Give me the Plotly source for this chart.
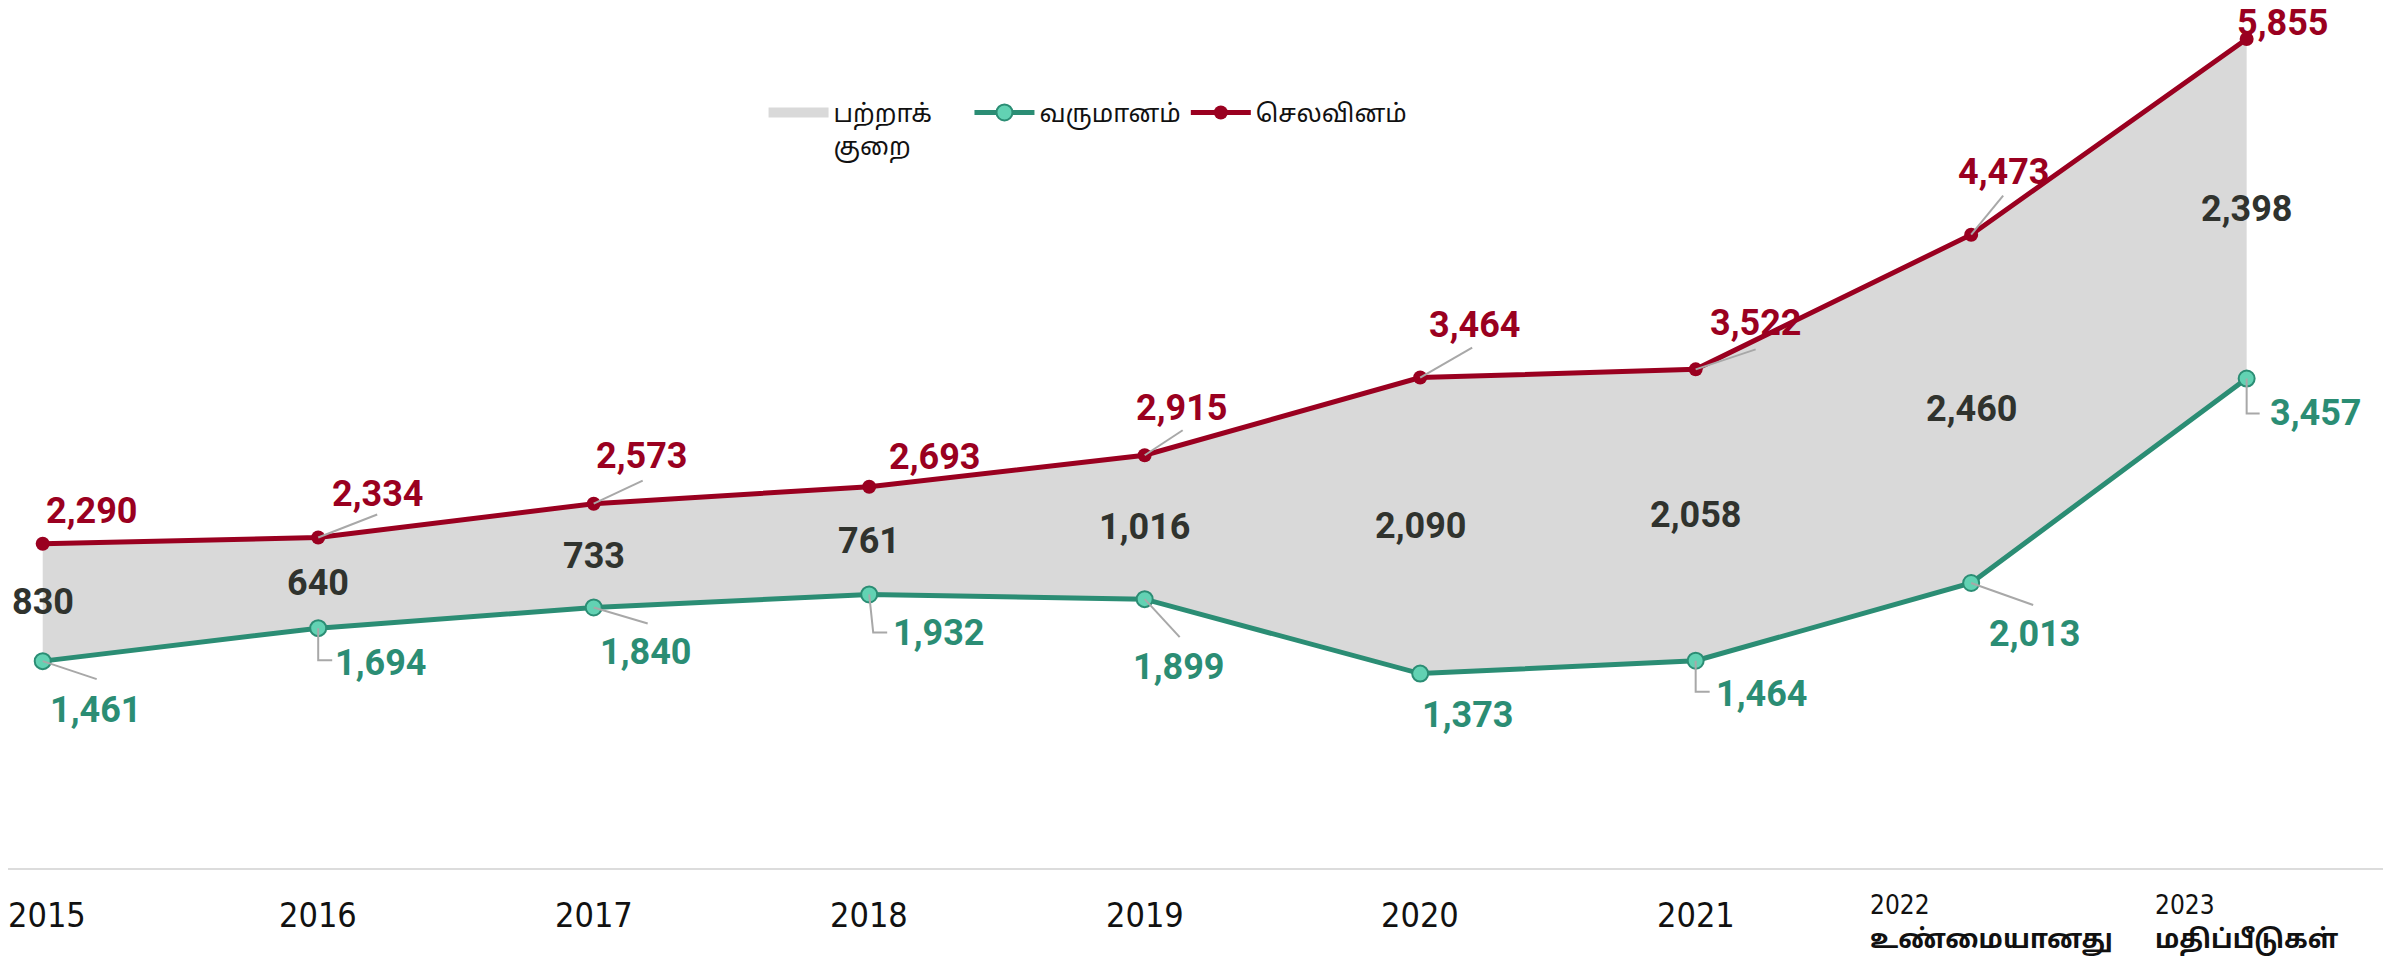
import plotly.graph_objects as go

# data
years = [2015, 2016, 2017, 2018, 2019, 2020, 2021, 2022, 2023]
year_labels = ["2015", "2016", "2017", "2018", "2019", "2020", "2021",
               "2022<br><b>உண்மையானது</b>", "2023<br><b>மதிப்பீடுகள்</b>"]
income = [1461, 1694, 1840, 1932, 1899, 1373, 1464, 2013, 3457]
expenditure = [2290, 2334, 2573, 2693, 2915, 3464, 3522, 4473, 5855]
deficit = [830, 640, 733, 761, 1016, 2090, 2058, 2460, 2398]
legend_names = ["பற்றாக்<br>குறை", "வருமானம்", "செலவினம்"]

RED = "#9a0020"
GREEN = "#2b8d74"
GREEN_FILL = "#62d2b3"
GREY_FILL = "#d9d9d9"
DARK = "#30332e"
LEADER = "#a8a8a8"
NUM_FONT = "Roboto"
TAMIL_FONT = "Noto Sans Tamil, Latha, Noto Sans, sans-serif"
AXIS_FONT = "Liberation Sans Narrow, DejaVu Sans Condensed, Roboto, " + TAMIL_FONT
NBSP = "\u00a0"

# label offsets in px (x right, y up) and leader-line shapes relative to point
red_shift = [(49, 33), (59, 44), (48, 48), (65, 30), (37, 47),
             (54, 53), (60, 46), (32, 63), (36, 16)]
green_shift = [(53, -49), (62, -35), (52, -45), (69, -39), (34, -68),
               (47, -41), (66, -33), (63, -51), (69, -34)]
red_leader = [None, "M0,0 L59,23", "M0,0 L49,23", None, "M0,0 L38,25",
              "M0,0 L52,30", "M0,0 L60,20", "M0,0 L32,39", None]
green_leader = ["M0,0 L54,-18", "M0,0 L0,-32 L14,-32", "M0,0 L54,-16",
                "M0,0 L4,-38 L18,-38", "M0,0 L35,-38", None,
                "M0,0 L0,-31 L14,-31", "M0,0 L62,-22", "M0,0 L0,-35 L13,-35"]
axis_label_xshift = [4, 0, 0, 0, 0, 0, 0, 20, 0]
legend_pad = [5, 0, 0]

fig = go.Figure()

# base for the deficit band
fig.add_trace(go.Scatter(x=years, y=income, mode="lines", line=dict(width=0),
                         showlegend=False, hoverinfo="skip"))
fig.add_trace(go.Scatter(x=years, y=expenditure, mode="lines", line=dict(width=0),
                         fill="tonexty", fillcolor=GREY_FILL,
                         showlegend=False, hoverinfo="skip"))
# legend swatch for the band
fig.add_trace(go.Scatter(x=[None], y=[None], mode="lines",
                         name=legend_names[0].replace("<br>", NBSP * legend_pad[0] + "<br>", 1),
                         line=dict(color=GREY_FILL, width=22)))
fig.add_trace(go.Scatter(x=years, y=income, mode="lines+markers",
                         name=legend_names[1] + NBSP * legend_pad[1],
                         line=dict(color=GREEN, width=5),
                         marker=dict(size=16, color=GREEN_FILL,
                                     line=dict(color=GREEN, width=2))))
fig.add_trace(go.Scatter(x=years, y=expenditure, mode="lines+markers",
                         name=legend_names[2],
                         line=dict(color=RED, width=5),
                         marker=dict(size=14, color=RED)))

annotations = []
shapes = []
for i, yr in enumerate(years):
    annotations.append(dict(x=yr, y=expenditure[i], text=f"{expenditure[i]:,}",
                            showarrow=False, xshift=red_shift[i][0], yshift=red_shift[i][1],
                            font=dict(family=NUM_FONT, size=36, color=RED, weight="bold")))
    annotations.append(dict(x=yr, y=income[i], text=f"{income[i]:,}",
                            showarrow=False, xshift=green_shift[i][0], yshift=green_shift[i][1],
                            font=dict(family=NUM_FONT, size=36, color=GREEN, weight="bold")))
    annotations.append(dict(x=yr, y=(income[i] + expenditure[i]) / 2, text=f"{deficit[i]:,}",
                            showarrow=False,
                            font=dict(family=NUM_FONT, size=36, color=DARK, weight="bold")))
    two_line = "<br>" in year_labels[i]
    annotations.append(dict(x=yr, y=0, yref="y", text=year_labels[i], showarrow=False,
                            yanchor="top", yshift=-20 if two_line else -25,
                            xshift=axis_label_xshift[i], align="left",
                            font=dict(family=AXIS_FONT, size=26 if two_line else 34,
                                      color="#111")))
    for path, yv in ((red_leader[i], expenditure[i]), (green_leader[i], income[i])):
        if path:
            shapes.append(dict(type="path", path=path, xref="x", yref="y",
                               xsizemode="pixel", ysizemode="pixel",
                               xanchor=yr, yanchor=yv,
                               line=dict(color=LEADER, width=2), layer="above"))

fig.update_layout(
    width=2391, height=969,
    margin=dict(l=0, r=0, t=0, b=109),
    paper_bgcolor="white", plot_bgcolor="white",
    showlegend=True,
    legend=dict(orientation="h", x=0.316, y=0.905, xanchor="left", yanchor="top",
                traceorder="normal", itemwidth=60,
                font=dict(family=TAMIL_FONT, size=25, color="#111"),
                valign="top", bgcolor="rgba(0,0,0,0)"),
    xaxis=dict(range=[2014.874, 2023.553], showgrid=False, zeroline=False,
               showticklabels=False, showline=True, linecolor="#dcdcdc", linewidth=2,
               ticks=""),
    yaxis=dict(range=[0, 6074], showgrid=False, zeroline=False, showticklabels=False,
               showline=False),
    annotations=annotations,
    shapes=shapes,
)

fig.write_html("out.html")
